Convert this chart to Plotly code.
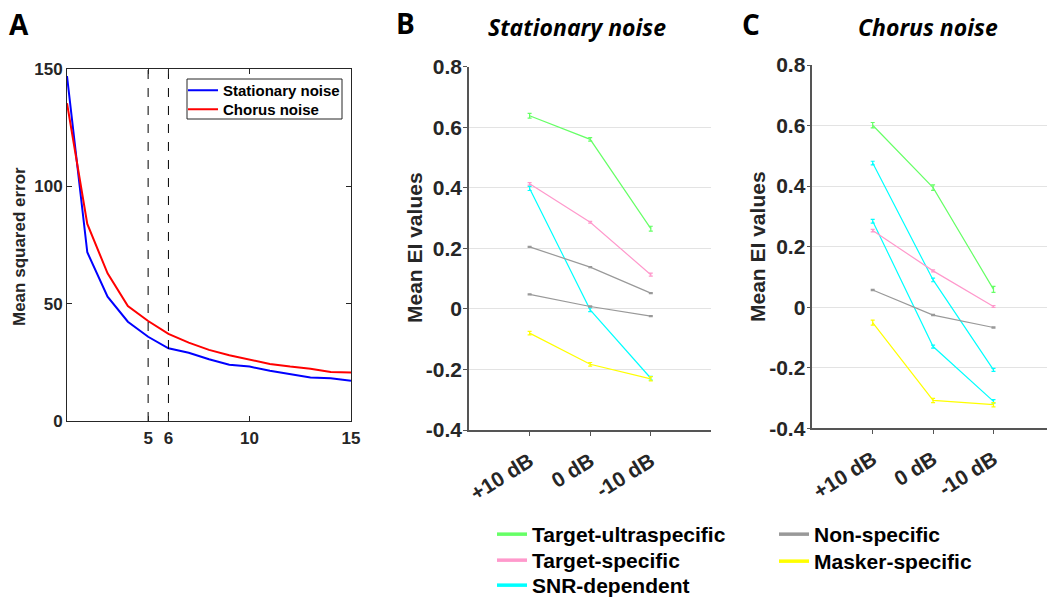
import plotly.graph_objects as go

# ---------------- Data ----------------
# Panel A: mean squared error vs number of components
n_components = list(range(1, 16))
mse_stationary = [147, 71.9, 53, 42.3, 35.9, 31, 29.1, 26.3, 24, 23.2, 21.4, 20, 18.5, 18.2, 17.2]
mse_chorus = [135.4, 84, 62.9, 49, 42.6, 37.1, 33.4, 30.3, 28, 26.3, 24.3, 23.2, 22.3, 20.9, 20.7]
selected_k = [5, 6]
a_xticks = [5, 6, 10, 15]
a_yticks = [0, 50, 100, 150]
a_series_names = ["Stationary noise", "Chorus noise"]
a_series_colors = ["#0000ff", "#ff0000"]

# Panels B and C
snr_labels = ["+10 dB", "0 dB", "-10 dB"]
snr_pos = [1, 2, 3]
ei_ticks = [-0.4, -0.2, 0, 0.2, 0.4, 0.6, 0.8]
ei_ticktext = ["-0.4", "-0.2", "0", "0.2", "0.4", "0.6", "0.8"]

# (category, mean values, error values)
stationary_series = [
    ("Target-ultraspecific", [0.638, 0.560, 0.265], [0.008, 0.006, 0.008]),
    ("Target-specific", [0.413, 0.286, 0.113], [0.004, 0.003, 0.005]),
    ("SNR-dependent", [0.398, -0.003, -0.229], [0.007, 0.006, 0.006]),
    ("Non-specific", [0.205, 0.138, 0.052], [0.002, 0.002, 0.002]),
    ("Non-specific", [0.048, 0.008, -0.024], [0.002, 0.002, 0.002]),
    ("Masker-specific", [-0.080, -0.183, -0.231], [0.006, 0.006, 0.007]),
]
chorus_series = [
    ("Target-ultraspecific", [0.601, 0.395, 0.059], [0.009, 0.009, 0.010]),
    ("SNR-dependent", [0.476, 0.090, -0.207], [0.006, 0.006, 0.005]),
    ("SNR-dependent", [0.284, -0.130, -0.311], [0.006, 0.005, 0.006]),
    ("Target-specific", [0.253, 0.120, 0.002], [0.004, 0.003, 0.003]),
    ("Non-specific", [0.057, -0.026, -0.067], [0.002, 0.002, 0.002]),
    ("Masker-specific", [-0.051, -0.308, -0.322], [0.008, 0.007, 0.007]),
]

categories = ["Target-ultraspecific", "Target-specific", "SNR-dependent", "Non-specific", "Masker-specific"]
category_colors = ["#66ff66", "#ff99cc", "#00ffff", "#999999", "#ffff00"]

W, H = 1047, 599
FONT = "Liberation Sans, Arial, Helvetica, sans-serif"
AX = "#262626"


def fx(px):
    return px / W


def fy(py):
    return 1 - py / H


color_of = dict(zip(categories, category_colors))
fig = go.Figure()

# ---------------- Panel A ----------------
a_values = [mse_stationary, mse_chorus]
for name, col, vals, lg in zip(a_series_names, a_series_colors, a_values, ["legend6", "legend7"]):
    fig.add_trace(go.Scatter(x=n_components, y=vals, mode="lines", name=name,
                             line=dict(color=col, width=2), xaxis="x", yaxis="y", legend=lg))
for k in selected_k:
    fig.add_trace(go.Scatter(x=[k, k], y=[a_yticks[0], a_yticks[-1]], mode="lines", showlegend=False,
                             line=dict(color="black", width=1, dash="dash"), xaxis="x", yaxis="y",
                             hoverinfo="skip"))

# ---------------- Panels B & C ----------------
for series, xa, ya in [(stationary_series, "x2", "y2"), (chorus_series, "x3", "y3")]:
    for name, vals, errs in series:
        fig.add_trace(go.Scatter(
            x=snr_pos, y=vals, mode="lines", name=name,
            line=dict(color=color_of[name], width=1.2),
            error_y=dict(type="data", array=errs, visible=True, color=color_of[name],
                         thickness=1.2, width=2),
            xaxis=xa, yaxis=ya, showlegend=False,
        ))

# legend entries (one legend per row to match spacing)
legend_rows = ["legend", "legend2", "legend3", "legend4", "legend5"]
for name, lg in zip(categories, legend_rows):
    fig.add_trace(go.Scatter(x=[None], y=[None], mode="lines", name=name,
                             line=dict(color=color_of[name], width=3.5),
                             xaxis="x2", yaxis="y2", showlegend=True, legend=lg))

tickfont_a = dict(family=FONT, size=17, color=AX, weight="bold")
tickfont_bc = dict(family=FONT, size=21, color=AX, weight="bold")
legfont = dict(family=FONT, size=21, color="black", weight="bold")
legfont_a = dict(family=FONT, size=15, color="black", weight="bold")

# legend row centers (pixels) and left positions
leg_pos = {
    "legend": (492, 535, legfont, 21), "legend2": (492, 561, legfont, 21), "legend3": (492, 586, legfont, 21),
    "legend4": (774, 535, legfont, 21), "legend5": (774, 562, legfont, 21),
    "legend6": (183, 90, legfont_a, 16), "legend7": (183, 109, legfont_a, 16),
}
layout_legends = {}
for lg, (lx, cy, f, off) in leg_pos.items():
    layout_legends[lg] = dict(x=fx(lx), y=fy(cy - off), xanchor="left", yanchor="top",
                              bgcolor="rgba(0,0,0,0)", font=f, itemwidth=30)

fig.update_layout(
    width=W, height=H, margin=dict(l=0, r=0, t=0, b=0, autoexpand=False),
    paper_bgcolor="white", plot_bgcolor="white",
    font=dict(family=FONT, color=AX),
    xaxis=dict(domain=[fx(67), fx(351)], range=[1, 15], tickvals=a_xticks, ticks="inside", ticklen=5,
               tickcolor=AX, showline=True, linecolor=AX, linewidth=1, mirror="allticks",
               showgrid=False, zeroline=False, tickfont=tickfont_a, anchor="y", ticklabelstandoff=2,
               automargin=False),
    yaxis=dict(domain=[fy(421), fy(69)], range=[0, 150], tickvals=a_yticks, ticks="inside", ticklen=5,
               tickcolor=AX, showline=True, linecolor=AX, linewidth=1, mirror="allticks",
               showgrid=False, zeroline=False, tickfont=tickfont_a, anchor="x", automargin=False),
    xaxis2=dict(domain=[fx(469), fx(711.4)], range=[0, 4], tickvals=snr_pos, ticktext=snr_labels,
                tickangle=-32, ticks="outside", ticklen=4, tickcolor="#555555", showline=True,
                linecolor="#555555", linewidth=1.5, showgrid=False, zeroline=False,
                tickfont=dict(family=FONT, size=21, color=AX, weight="bold"), anchor="y2",
                ticklabelstandoff=5, automargin=False),
    yaxis2=dict(domain=[fy(430), fy(66.7)], range=[-0.4, 0.8], tickvals=ei_ticks, ticktext=ei_ticktext,
                ticks="outside", ticklen=4, tickcolor="#555555", showline=True, linecolor="#555555",
                linewidth=1.5, showgrid=True, gridcolor="#e3e3e3", gridwidth=1, zeroline=False,
                tickfont=tickfont_bc, anchor="x2", automargin=False, ticklabelstandoff=-3),
    xaxis3=dict(domain=[fx(812.3), 1.0], range=[0, (W - 812.3) / 60.4], tickvals=snr_pos, ticktext=snr_labels,
                tickangle=-32, ticks="outside", ticklen=4, tickcolor="#555555", showline=True,
                linecolor="#555555", linewidth=1.5, showgrid=False, zeroline=False,
                tickfont=dict(family=FONT, size=21, color=AX, weight="bold"), anchor="y3",
                ticklabelstandoff=5, automargin=False),
    yaxis3=dict(domain=[fy(428.3), fy(65)], range=[-0.4, 0.8], tickvals=ei_ticks, ticktext=ei_ticktext,
                ticks="outside", ticklen=4, tickcolor="#555555", showline=True, linecolor="#555555",
                linewidth=1.5, showgrid=True, gridcolor="#e3e3e3", gridwidth=1, zeroline=False,
                tickfont=tickfont_bc, anchor="x3", automargin=False, ticklabelstandoff=-3),
    **layout_legends,
)

# legend frame for panel A
fig.add_shape(type="rect", xref="paper", yref="paper", x0=fx(187), x1=fx(342), y0=fy(119), y1=fy(79),
              line=dict(color=AX, width=1), fillcolor="white", layer="above")

annotations = [
    dict(text="A", x=fx(7), y=fy(24), xanchor="left", yanchor="middle",
         font=dict(family="Open Sans, sans-serif", size=28, color="black", weight="bold")),
    dict(text="B", x=fx(394), y=fy(23), xanchor="left", yanchor="middle",
         font=dict(family="Open Sans, sans-serif", size=28, color="black", weight="bold")),
    dict(text="C", x=fx(740), y=fy(24), xanchor="left", yanchor="middle",
         font=dict(family="Open Sans, sans-serif", size=28, color="black", weight="bold")),
    dict(text="Stationary noise", x=fx(577), y=fy(27), xanchor="center", yanchor="middle",
         font=dict(family="Open Sans, sans-serif", size=23, color="black", weight="bold", style="italic")),
    dict(text="Chorus noise", x=fx(928), y=fy(27), xanchor="center", yanchor="middle",
         font=dict(family="Open Sans, sans-serif", size=23, color="black", weight="bold", style="italic")),
    dict(text="Mean squared error", x=fx(19), y=fy(247), xanchor="center", yanchor="middle", textangle=-90,
         font=dict(family=FONT, size=17, color=AX, weight="bold")),
    dict(text="Mean EI values", x=fx(414), y=fy(248), xanchor="center", yanchor="middle", textangle=-90,
         font=dict(family=FONT, size=21, color=AX, weight="bold")),
    dict(text="Mean EI values", x=fx(757), y=fy(247), xanchor="center", yanchor="middle", textangle=-90,
         font=dict(family=FONT, size=21, color=AX, weight="bold")),
]
for a in annotations:
    a.update(xref="paper", yref="paper", showarrow=False)
fig.update_layout(annotations=annotations)

fig.write_html("out.html")
